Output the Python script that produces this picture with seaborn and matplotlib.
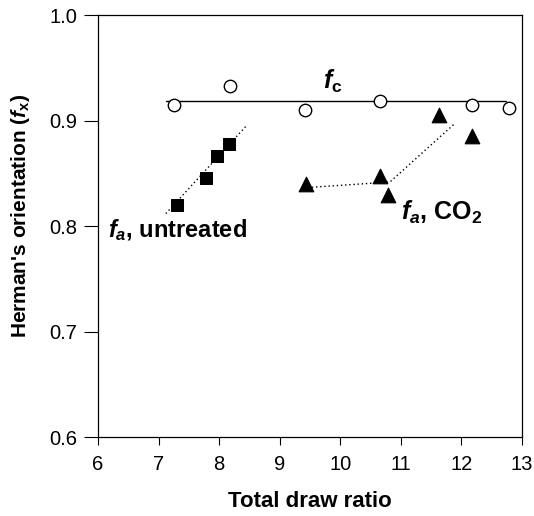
import numpy as np
import pandas as pd
import seaborn as sns
import matplotlib.pyplot as plt

# data
fc_ratio = [7.26, 8.18, 9.42, 10.66, 12.18, 12.78]
fc_orient = [0.915, 0.933, 0.910, 0.919, 0.915, 0.912]
fc_line_x = [7.13, 12.74]
fc_line_y = [0.919, 0.919]

untreated_ratio = [7.30, 7.79, 7.96, 8.17]
untreated_orient = [0.820, 0.846, 0.867, 0.878]
untreated_fit_x = [7.12, 8.46]
untreated_fit_y = [0.812, 0.896]

co2_ratio = [9.43, 10.66, 10.78, 11.63, 12.18]
co2_orient = [0.840, 0.848, 0.830, 0.906, 0.886]
co2_fit_x = [9.53, 10.82, 11.90]
co2_fit_y = [0.837, 0.842, 0.898]

sns.set_style("ticks", {"text.color": "black", "axes.labelcolor": "black",
                        "xtick.color": "black", "ytick.color": "black",
                        "axes.edgecolor": "black"})
plt.rcParams["font.family"] = ["Liberation Sans", "DejaVu Sans"]
plt.rcParams["mathtext.fontset"] = "custom"
plt.rcParams["mathtext.it"] = "Liberation Sans:italic:bold"
plt.rcParams["mathtext.rm"] = "Liberation Sans:bold"
plt.rcParams["mathtext.bf"] = "Liberation Sans:bold"

fig = plt.figure(figsize=(5.34, 5.16), dpi=100)
ax = fig.add_axes([0.1835, 0.153, 0.794, 0.817])

fc = pd.DataFrame({"ratio": fc_ratio, "orient": fc_orient})
untreated = pd.DataFrame({"ratio": untreated_ratio, "orient": untreated_orient})
co2 = pd.DataFrame({"ratio": co2_ratio, "orient": co2_orient})

# lines first
sns.lineplot(x=fc_line_x, y=fc_line_y, color="black", lw=1.0, ax=ax)
sns.lineplot(x=untreated_fit_x, y=untreated_fit_y, color="black", lw=1.0,
             linestyle=(0, (1, 2)), ax=ax)
sns.lineplot(x=co2_fit_x, y=co2_fit_y, color="black", lw=1.0,
             linestyle=(0, (1, 2)), sort=False, ax=ax)

sns.scatterplot(data=fc, x="ratio", y="orient", marker="o", s=80,
                facecolor="white", edgecolor="black", linewidth=1.0, ax=ax, zorder=3)
sns.scatterplot(data=untreated, x="ratio", y="orient", marker="s", s=85,
                color="black", edgecolor="black", ax=ax, zorder=3)
sns.scatterplot(data=co2, x="ratio", y="orient", marker="^", s=110,
                color="black", edgecolor="black", ax=ax, zorder=3)

ax.text(9.72, 0.937, r"$f_\mathrm{c}$", fontsize=18, va="center", color="black")
ax.text(6.17, 0.796, r"$f_a$, untreated", fontsize=17, fontweight="bold",
        va="center", color="black")
ax.text(11.0, 0.813, r"$f_a$, CO$_2$", fontsize=18, fontweight="bold",
        va="center", color="black")

ax.set_xlim(6, 13)
ax.set_ylim(0.6, 1.0)
ax.set_xticks(range(6, 14))
ax.set_yticks([0.6, 0.7, 0.8, 0.9, 1.0])
ax.set_yticklabels(["0.6", "0.7", "0.8", "0.9", "1.0"])
ax.tick_params(labelsize=14.5, width=0.8, color="black", labelcolor="black")
ax.tick_params(axis="x", length=6, pad=7)
ax.tick_params(axis="y", length=10, pad=5)

ax.set_xlabel("Total draw ratio", fontsize=16, fontweight="bold", labelpad=12,
              color="black")
ax.set_ylabel(r"Herman's orientation ($f_\mathrm{x}$)", fontsize=15,
              fontweight="bold", color="black")
ax.yaxis.set_label_coords(-0.155, 0.524)

for side in ["top", "right", "left", "bottom"]:
    ax.spines[side].set_visible(True)
    ax.spines[side].set_linewidth(0.9)
    ax.spines[side].set_color("black")

fig.savefig("out.png", dpi=100)
